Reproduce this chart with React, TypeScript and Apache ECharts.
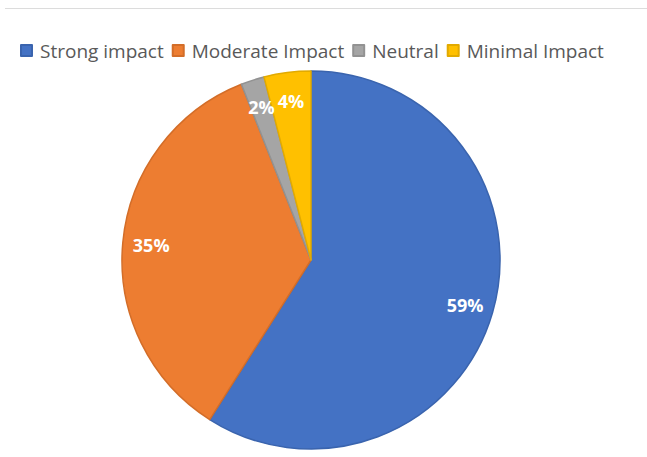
import React, { useEffect, useRef } from "react";
import * as echarts from "echarts";

const categories = ["Strong impact", "Moderate Impact", "Neutral", "Minimal Impact"];
const values = [59, 35, 2, 4];
const colors = ["#4472C4", "#ED7D31", "#A5A5A5", "#FFC000"];
const borders = ["#3A64AE", "#D36D28", "#929292", "#E2AA00"];

export default function App() {
  const ref = useRef<HTMLDivElement>(null);
  useEffect(() => {
    document.body.style.margin = "0";
    const chart = echarts.init(ref.current!, null, { renderer: "svg" });
    const data = categories.map((name, i) => ({
      name,
      value: values[i],
      itemStyle: { color: colors[i], borderColor: borders[i], borderWidth: 1.5 },
    }));
    const labelData = categories.map((name, i) => ({ name, value: values[i] }));
    chart.setOption({
      animation: false,
      color: colors,
      legend: {
        data: categories,
        left: 15,
        top: 36,
        itemWidth: 11,
        itemHeight: 11,
        itemGap: 8,
        icon: "rect",
        textStyle: { color: "#595959", fontSize: 19, fontFamily: "Open Sans", padding: [0, 0, 0, 3] },
        selectedMode: false,
      },
      graphic: [
        {
          type: "line",
          shape: { x1: 5, y1: 8.5, x2: 647, y2: 8.5 },
          style: { stroke: "#dcdcdc", lineWidth: 1 },
        },
      ],
      series: [
        {
          type: "pie",
          center: [311, 260],
          radius: [0, 189],
          startAngle: 90,
          clockwise: true,
          data,
          label: { show: false },
          labelLine: { show: false },
          silent: true,
        },
        {
          type: "pie",
          center: [311, 260],
          radius: [126, 189],
          startAngle: 90,
          clockwise: true,
          data: labelData,
          itemStyle: { color: "rgba(0,0,0,0)", borderWidth: 0 },
          label: {
            show: true,
            position: "inside",
            formatter: "{c}%",
            color: "#ffffff",
            fontWeight: "bold",
            fontSize: 18,
            fontFamily: "Open Sans",
          },
          labelLine: { show: false },
          silent: true,
          legendHoverLink: false,
        },
      ],
    });
    return () => chart.dispose();
  }, []);
  return <div ref={ref} style={{ width: 647, height: 457 }} />;
}
